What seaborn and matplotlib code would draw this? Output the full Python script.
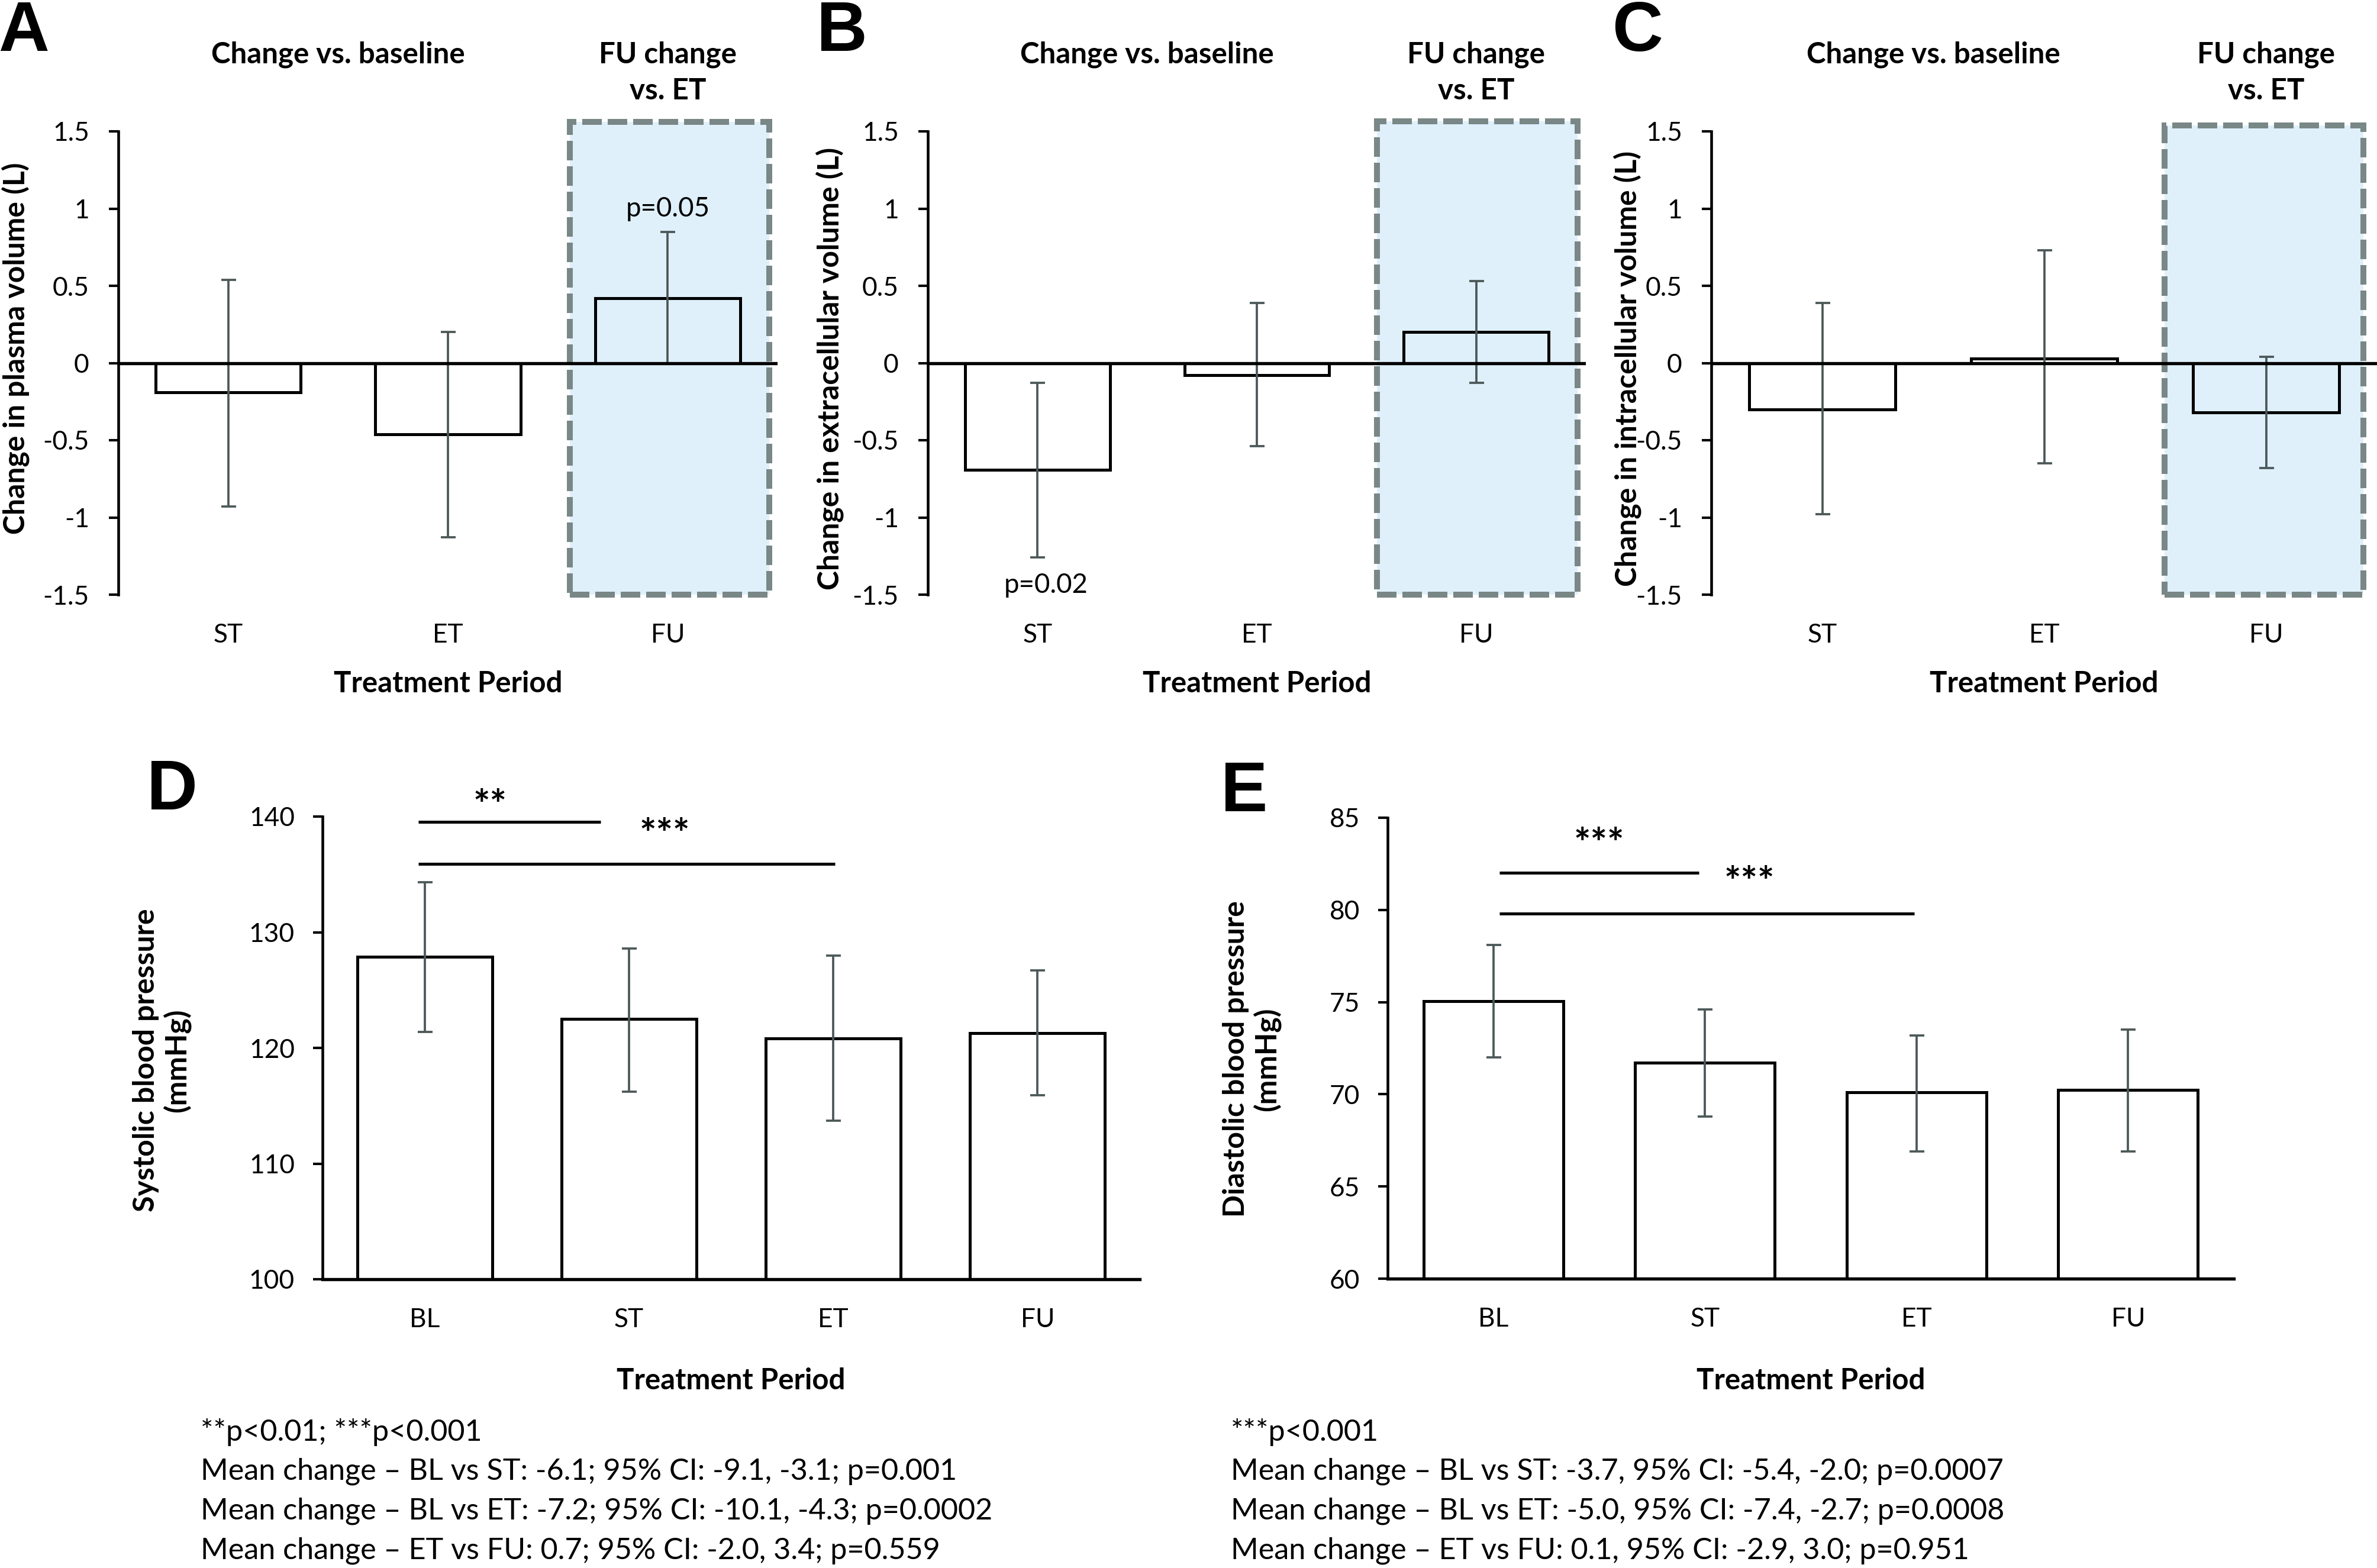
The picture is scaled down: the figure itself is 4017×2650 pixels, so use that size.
import numpy as np
import pandas as pd
import matplotlib
matplotlib.use("Agg")
import matplotlib.pyplot as plt
import seaborn as sns
from matplotlib.patches import Rectangle
from matplotlib.transforms import blended_transform_factory

# ------------------------------------------------------------------ data
periods_change = ["ST", "ET", "FU"]

plasma_mean = [-0.19, -0.46, 0.42]
plasma_low = [-0.93, -1.13, 0.00]
plasma_high = [0.54, 0.20, 0.85]

ecv_mean = [-0.69, -0.08, 0.20]
ecv_low = [-1.26, -0.54, -0.13]
ecv_high = [-0.13, 0.39, 0.53]

icv_mean = [-0.30, 0.03, -0.32]
icv_low = [-0.98, -0.65, -0.68]
icv_high = [0.39, 0.73, 0.04]

periods_bp = ["BL", "ST", "ET", "FU"]

sbp_mean = [127.9, 122.5, 120.8, 121.3]
sbp_low = [121.4, 116.2, 113.7, 115.9]
sbp_high = [134.3, 128.6, 128.0, 126.7]

dbp_mean = [75.05, 71.7, 70.1, 70.25]
dbp_low = [72.0, 68.8, 66.9, 66.9]
dbp_high = [78.1, 74.6, 73.2, 73.5]

vol_yticks = [-1.5, -1, -0.5, 0, 0.5, 1, 1.5]
vol_yticklabels = ["-1.5", "-1", "-0.5", "0", "0.5", "1", "1.5"]
sbp_yticks = [100, 110, 120, 130, 140]
dbp_yticks = [60, 65, 70, 75, 80, 85]

vol_ylabels = ["Change in plasma volume (L)",
               "Change in extracellular volume (L)",
               "Change in intracellular volume (L)"]
xlabel_text = "Treatment Period"
title_left = "Change vs. baseline"
title_right_1 = "FU change"
title_right_2 = "vs. ET"
panel_letters = ["A", "B", "C", "D", "E"]

sbp_label = "Systolic blood pressure\n(mmHg)"
dbp_label = "Diastolic blood pressure\n(mmHg)"

sbp_notes = ["**p<0.01; ***p<0.001",
             "Mean change \u2013 BL vs ST: -6.1; 95% CI: -9.1, -3.1; p=0.001",
             "Mean change \u2013 BL vs ET: -7.2; 95% CI: -10.1, -4.3; p=0.0002",
             "Mean change \u2013 ET vs FU: 0.7; 95% CI: -2.0, 3.4; p=0.559"]
dbp_notes = ["***p<0.001",
             "Mean change \u2013 BL vs ST: -3.7, 95% CI: -5.4, -2.0; p=0.0007",
             "Mean change \u2013 BL vs ET: -5.0, 95% CI: -7.4, -2.7; p=0.0008",
             "Mean change \u2013 ET vs FU: 0.1, 95% CI: -2.9, 3.0; p=0.951"]

# ------------------------------------------------------------------ style
sns.set_style("ticks", {"axes.edgecolor": "black", "xtick.color": "black",
                        "ytick.color": "black", "text.color": "black",
                        "axes.labelcolor": "black"})
FONT = ["Lato", "DejaVu Sans"]
plt.rcParams["font.family"] = FONT

BOX_FILL = "#DFF0FB"
BOX_EDGE = "#798786"
ERR = "#4c5858"

W, H, DPI = 4017, 2650, 300
fig = plt.figure(figsize=(W / DPI, H / DPI), dpi=DPI)
fig.patch.set_facecolor("white")
renderer = fig.canvas.get_renderer()


def fit(s, target, weight="normal", family=None, base=12.0):
    t = fig.text(0, 0, s, fontsize=base, fontweight=weight,
                 family=family if family else FONT)
    w = t.get_window_extent(renderer=renderer).width
    t.remove()
    return base * target / w


fs_tick = fit("140", 77)
fs_title = fit(title_left, 428, "bold")
fs_ylab = fit(vol_ylabels[0], 628, "bold")
fs_xlab = fit(xlabel_text, 386, "bold")
fs_note = fit(sbp_notes[1], 1280)
fs_p = fit("p=0.05", 142)
fs_star = fit("**", 57, "bold")
LETTER_FAMILY = ["Liberation Sans", "DejaVu Sans"]
fs_letter = 28.5


def ax_at(left, right, top, bottom):
    return fig.add_axes([left / W, 1 - bottom / H, (right - left) / W, (bottom - top) / H])


def fx(x):
    return x / W


def fy(y):
    return 1 - y / H


def draw_bars(ax, cats, means, lows, highs):
    df = pd.DataFrame({"period": cats, "value": means})
    sns.barplot(data=df, x="period", y="value", ax=ax, width=0.66, color="white",
                edgecolor="black", linewidth=1.2, errorbar=None, zorder=2)
    for p in ax.patches:
        p.set_facecolor("none")
    m = np.array(means)
    yerr = [m - np.array(lows), np.array(highs) - m]
    ax.errorbar(np.arange(len(cats)), m, yerr=yerr, fmt="none", ecolor=ERR,
                elinewidth=0.9, capsize=3, capthick=0.9, zorder=3)
    ax.set_xlabel("")
    ax.set_ylabel("")


# ------------------------------------------------------------------ panels A-C
vol_means = [plasma_mean, ecv_mean, icv_mean]
vol_lows = [plasma_low, ecv_low, icv_low]
vol_highs = [plasma_high, ecv_high, icv_high]
vol_axes_x = [(200, 1314), (1568, 2680), (2892, 4017)]
vol_box = [(1.556, 2.461, 1.56), (1.547, 2.462, 1.565), (1.543, 2.439, 1.54)]
vol_ylab_pos = [(26, 589), (1402, 623), (2750, 623)]
letter_pos_top = [(40, 86), (1423, 86), (2767, 86)]

for i in range(3):
    l, r = vol_axes_x[i]
    ax = ax_at(l, r, 222, 1005)
    draw_bars(ax, periods_change, vol_means[i], vol_lows[i], vol_highs[i])
    x0, x1, top = vol_box[i]
    ax.add_patch(Rectangle((x0, -1.5), x1 - x0, top + 1.5, facecolor=BOX_FILL,
                           edgecolor=BOX_EDGE, lw=2.4, linestyle=(0, (3.3, 1.0)),
                           clip_on=False, zorder=0))
    ax.axhline(0, color="black", lw=1.3, zorder=4)
    ax.set_xlim(-0.5, 2.5)
    ax.set_ylim(-1.5, 1.5)
    ax.set_yticks(vol_yticks)
    ax.set_yticklabels(vol_yticklabels)
    ax.tick_params(axis="y", direction="out", length=3.8, width=1.0, pad=8.0,
                   labelsize=fs_tick)
    ax.tick_params(axis="x", length=0, pad=11.5, labelsize=fs_tick)
    for s in ["top", "right", "bottom"]:
        ax.spines[s].set_visible(False)
    ax.spines["left"].set_linewidth(1.1)
    ax.set_facecolor("none")

    trans = blended_transform_factory(ax.transData, fig.transFigure)
    ax.text(0.5, fy(92), title_left, transform=trans, ha="center", va="center",
            fontsize=fs_title, fontweight="bold")
    ax.text(2.0, fy(92), title_right_1, transform=trans, ha="center", va="center",
            fontsize=fs_title, fontweight="bold")
    ax.text(2.0, fy(153), title_right_2, transform=trans, ha="center", va="center",
            fontsize=fs_title, fontweight="bold")
    ax.text(1.0, fy(1155), xlabel_text, transform=trans, ha="center", va="center",
            fontsize=fs_xlab, fontweight="bold")

    yx, yy = vol_ylab_pos[i]
    fig.text(fx(yx), fy(yy), vol_ylabels[i], rotation=90, ha="center", va="center",
             fontsize=fs_ylab, fontweight="bold")
    lx, ly = letter_pos_top[i]
    fig.text(fx(lx), fy(ly), panel_letters[i], ha="center", va="baseline",
             fontsize=fs_letter, fontweight="bold", family=LETTER_FAMILY)

    if i == 0:
        ax.text(2.0, 1.0, "p=0.05", ha="center", va="center", fontsize=fs_p, zorder=5)
    if i == 1:
        ax.text(0.04, -1.44, "p=0.02", ha="center", va="center", fontsize=fs_p,
                zorder=5)


# ------------------------------------------------------------------ panels D, E
def bp_panel(left, right, top, bottom, means, lows, highs, ylim, yticks, label,
             label_xy, letter, letter_xy, notes, notes_x, sig):
    ax = ax_at(left, right, top, bottom)
    draw_bars(ax, periods_bp, means, lows, highs)
    ax.set_xlim(-0.5, 3.5)
    ax.set_ylim(*ylim)
    ax.set_yticks(yticks)
    ax.set_yticklabels([str(v) for v in yticks])
    ax.tick_params(axis="y", direction="out", length=3.8, width=1.0, pad=7.5,
                   labelsize=fs_tick)
    ax.tick_params(axis="x", length=0, pad=11.5, labelsize=fs_tick)
    for s in ["top", "right"]:
        ax.spines[s].set_visible(False)
    ax.spines["left"].set_linewidth(1.1)
    ax.spines["bottom"].set_linewidth(1.3)

    for (xa, xb, yl, xs, ys, stars) in sig:
        ax.plot([xa, xb], [yl, yl], color="black", lw=1.2, clip_on=False,
                solid_capstyle="butt")
        ax.text(xs, ys, stars, ha="center", va="center", fontsize=fs_star,
                fontweight="bold", clip_on=False)

    trans = blended_transform_factory(ax.transData, fig.transFigure)
    ax.text(1.5, fy(2333), xlabel_text, transform=trans, ha="center", va="center",
            fontsize=fs_xlab, fontweight="bold")
    fig.text(fx(label_xy[0]), fy(label_xy[1]), label, rotation=90, ha="center",
             va="center", multialignment="center", linespacing=1.15,
             fontsize=fs_ylab, fontweight="bold")
    fig.text(fx(letter_xy[0]), fy(letter_xy[1]), letter, ha="center", va="baseline",
             fontsize=fs_letter, fontweight="bold", family=LETTER_FAMILY)
    for k, line in enumerate(notes):
        fig.text(fx(notes_x), fy(2420 + 67 * k), line, ha="left", va="center",
                 fontsize=fs_note)


bp_panel(545, 1926, 1380, 2162, sbp_mean, sbp_low, sbp_high, (100, 140), sbp_yticks,
         sbp_label, (273, 1792), "D", (291, 1368), sbp_notes, 339,
         [(-0.03, 0.86, 139.55, 0.32, 140.8, "**"),
          (-0.03, 2.007, 135.9, 1.176, 138.3, "***")])
bp_panel(2345, 3775, 1382, 2161, dbp_mean, dbp_low, dbp_high, (60, 85), dbp_yticks,
         dbp_label, (2115, 1790), "E", (2103, 1371), dbp_notes, 2080,
         [(0.03, 0.97, 82.0, 0.50, 83.5, "***"),
          (0.03, 1.99, 79.8, 1.21, 81.4, "***")])

fig.savefig("out.png", dpi=DPI, facecolor="white")
